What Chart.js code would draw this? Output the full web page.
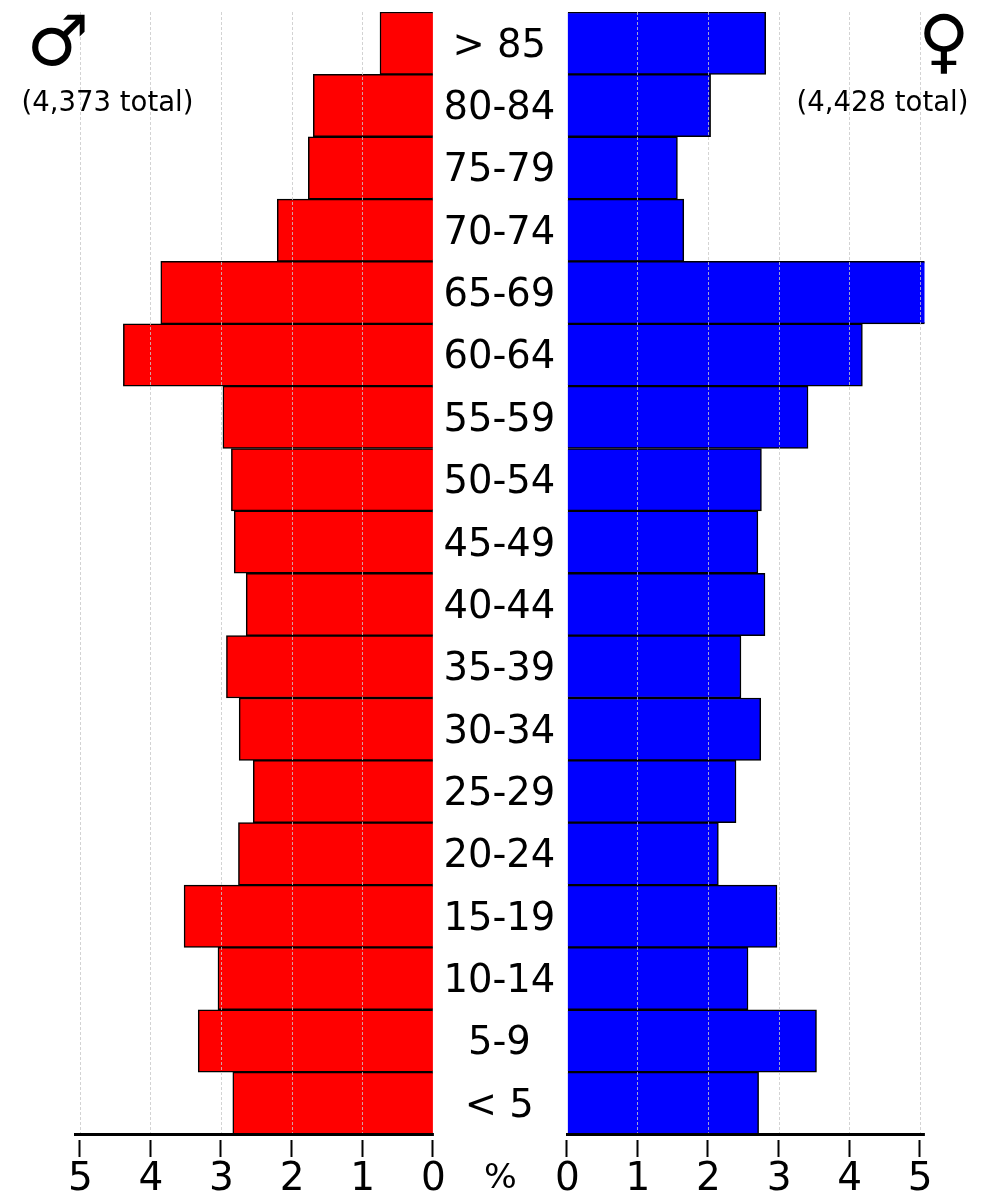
<!DOCTYPE html>
<html lang="en">
<head>
  <meta charset="UTF-8" />
  <title>Population pyramid</title>
  <script src="https://cdn.jsdelivr.net/npm/chart.js"></script>
  <style>
    * { margin: 0; padding: 0; box-sizing: border-box; }
    html, body { width: 1000px; height: 1200px; background: #fff; overflow: hidden; }
    body { position: relative; font-family: 'DejaVu Sans', sans-serif; color: #000; }
    canvas { position: absolute; top: 0; }
    #leftChart { left: 0; }
    #rightChart { left: 433px; }
    .note { position: absolute; white-space: nowrap; line-height: 1; transform: translateX(-50%); }
    .total { font-size: 27.5px; top: 88px; }
    .symbol { font-size: 70px; top: 6px; }
  </style>
</head>
<body>
  <canvas id="leftChart" width="500" height="1200"></canvas>
  <canvas id="rightChart" width="567" height="1200"></canvas>

  <div class="note symbol" style="left:58px">♂</div>
  <div class="note symbol" style="left:944px">♀</div>
  <div class="note total" style="left:107.5px">(4,373 total)</div>
  <div class="note total" style="left:882.5px">(4,428 total)</div>
  <div class="note" style="left:500.5px;top:1159px;font-size:34.5px">%</div>

  <script>
    const ageGroups = ['> 85', '80-84', '75-79', '70-74', '65-69', '60-64', '55-59', '50-54', '45-49',
      '40-44', '35-39', '30-34', '25-29', '20-24', '15-19', '10-14', '5-9', '< 5'];
    const maleValues = [0.755, 1.70, 1.77, 2.21, 3.86, 4.39, 2.98, 2.86, 2.82,
      2.65, 2.93, 2.75, 2.55, 2.76, 3.53, 3.05, 3.33, 2.84];
    const femaleValues = [2.81, 2.03, 1.56, 1.65, 5.20, 4.18, 3.41, 2.75, 2.70,
      2.80, 2.46, 2.74, 2.39, 2.14, 2.97, 2.56, 3.53, 2.71];
    const percentTicks = [0, 1, 2, 3, 4, 5];

    // ticks sit a little below the axis line, chart.js can't leave that gap by itself
    const detachedTicks = {
      id: 'detachedTicks',
      afterDraw(chart) {
        const { ctx, scales: { x } } = chart;
        ctx.save();
        ctx.strokeStyle = '#000';
        ctx.lineWidth = 2;
        percentTicks.forEach(v => {
          const px = Math.round(x.getPixelForValue(v)) - 0.5;
          ctx.beginPath();
          ctx.moveTo(px, 1140);
          ctx.lineTo(px, 1157);
          ctx.stroke();
        });
        ctx.restore();
      }
    };

    function xAxis(reverse, max) {
      return {
        type: 'linear',
        reverse: reverse,
        min: 0,
        max: max,
        afterBuildTicks: s => { s.ticks = percentTicks.map(v => ({ value: v })); },
        afterFit: s => { s.height = 65.5; s.paddingLeft = 0; s.paddingRight = 0; },
        border: { color: '#000', width: 3, z: 2, dash: [3, 2] },
        grid: {
          z: 1,
          drawTicks: false,
          lineWidth: 0.8,
          color: c => c.tick && c.tick.value === 0 ? 'rgba(0,0,0,0)' : '#c8c8c8'
        },
        ticks: {
          maxRotation: 0,
          autoSkip: false,
          color: '#000',
          padding: 22,
          font: { family: 'DejaVu Sans', size: 39 }
        }
      };
    }

    function pyramidSide(id, values, color, xOptions, yOptions, padding) {
      return new Chart(document.getElementById(id), {
        type: 'bar',
        data: {
          labels: ageGroups,
          datasets: [{
            data: values,
            backgroundColor: color,
            borderColor: '#000',
            borderWidth: 1.5,
            categoryPercentage: 1,
            barPercentage: 1
          }]
        },
        options: {
          indexAxis: 'y',
          responsive: false,
          animation: false,
          layout: { padding: padding },
          plugins: { legend: { display: false }, tooltip: { enabled: false } },
          scales: { x: xOptions, y: yOptions }
        },
        plugins: [detachedTicks]
      });
    }

    pyramidSide('leftChart', maleValues, '#ff0000', xAxis(true, 5.075),
      { display: false },
      { left: 75, right: 66.7, top: 12, bottom: 0 });

    pyramidSide('rightChart', femaleValues, '#0000ff', xAxis(false, 5.06),
      {
        afterFit: s => { s.width = 134.3; s.paddingTop = 0; s.paddingBottom = 0; },
        border: { display: false },
        grid: { display: false, drawTicks: false },
        ticks: {
          crossAlign: 'center',
          autoSkip: false,
          color: '#000',
          padding: 12,
          labelOffset: 3.5,
          font: { family: 'DejaVu Sans', size: 38.5 }
        }
      },
      { left: 0, right: 75.5, top: 12, bottom: 0 });
  </script>
</body>
</html>
